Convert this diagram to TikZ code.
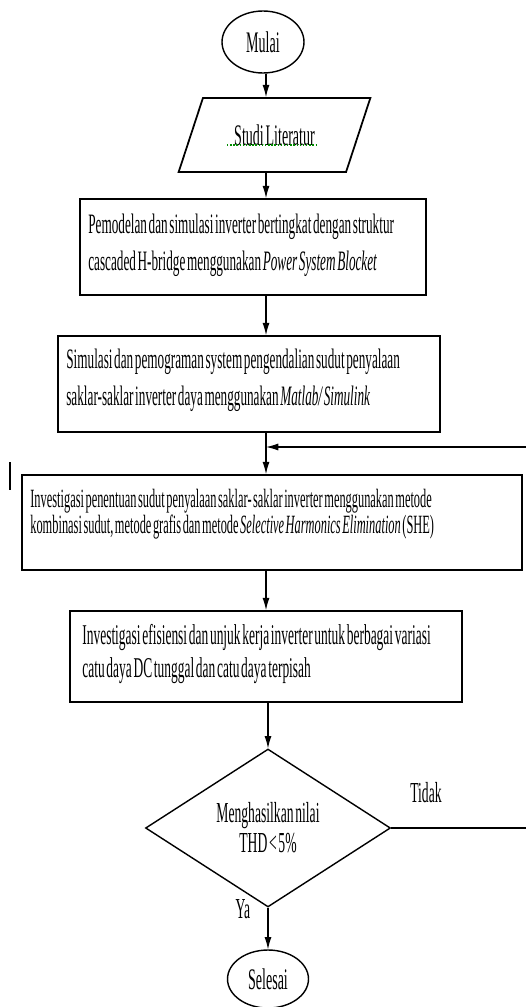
\documentclass[tikz,border=0pt]{standalone}
\usepackage{fontspec}
\setmainfont{Liberation Serif}[FakeStretch=0.47, WordSpace=0.5]
\usetikzlibrary{shapes.geometric,arrows.meta}

\begin{document}
\begin{tikzpicture}[
    x=0.02cm, y=-0.02cm,
    terminal/.style={ellipse, draw=black, line width=0.8pt,
                     minimum width=1.64cm, minimum height=1.24cm, inner sep=0pt,
                     font=\fontsize{17}{20}\selectfont},
    inout/.style={trapezium, trapezium left angle=57, trapezium right angle=123,
                  trapezium stretches=true, draw=black, line width=1pt,
                  minimum width=3.86cm, minimum height=1.48cm, inner sep=0pt,
                  font=\fontsize{17}{20}\selectfont},
    process/.style={rectangle, draw=black, line width=1pt, inner sep=0pt},
    txt/.style={anchor=north west, inner sep=0pt, align=flush left},
    decision/.style={diamond, draw=black, line width=0.8pt, aspect=1.55,
                     minimum width=4.9cm, minimum height=3.16cm, inner sep=0pt,
                     align=center, font=\fontsize{16.5}{17}\selectfont},
    conn/.style={-{Latex[length=7pt,width=4pt]}, line width=0.6pt},
    lbl/.style={font=\fontsize{16.5}{18}\selectfont},
]
\useasboundingbox (0,0) rectangle (525,1007);

% --- Main column ---
\coordinate (axis) at (266,0);

\node[terminal] (start) at (263,42) {Mulai};
\node[inout] (lit) at (274.5,135) {Studi Literatur};
% spell-check squiggle under the title
\draw[green!55!black, densely dotted, line width=0.8pt] (227,145) -- (316,145);

\node[process, minimum width=6.92cm, minimum height=1.92cm] (pem) at (253,247) {};
\node[txt, font=\fontsize{16}{21}\selectfont] (pemtxt) at (88,214)
    {Pemodelan dan simulasi inverter bertingkat dengan struktur\\
     cascaded H-bridge menggunakan \textit{Power System Blocket}};

\node[process, minimum width=7.64cm, minimum height=1.92cm] (sim) at (249,384) {};
\node[txt, font=\fontsize{16}{21}\selectfont] (simtxt) at (66,349)
    {Simulasi dan pemograman system pengendalian sudut penyalaan\\
     saklar-saklar inverter daya menggunakan \textit{Matlab/ Simulink}};

\node[process, minimum width=10cm, minimum height=1.9cm] (inv) at (272,522.5) {};
\node[txt, font=\fontsize{15}{15}\selectfont] (invtxt) at (30,489)
    {Investigasi penentuan sudut penyalaan saklar- saklar inverter menggunakan metode\\
     kombinasi sudut, metode grafis dan metode \textit{Selective Harmonics Elimination} (SHE)};

\node[process, minimum width=7.84cm, minimum height=1.82cm] (eff) at (266,656.5) {};
\node[txt, font=\fontsize{16.3}{19}\selectfont] (efftxt) at (82,624)
    {Investigasi efisiensi dan unjuk kerja inverter untuk berbagai variasi\\
     catu daya DC tunggal dan catu daya terpisah};

\node[decision] (dec) at (268,828) {Menghasilkan nilai\\THD \textless{} 5\%};
\node[terminal, minimum width=1.62cm, minimum height=1.16cm] (end) at (268,979) {Selesai};

% --- Labels ---
\node[lbl] (tidak) at (426,793) {Tidak};
\node[lbl] (ya) at (243,909) {Ya};

% --- Connections ---
\draw[conn] (start.south -| axis) -- (lit.north -| axis);
\draw[conn] (lit.south -| axis) -- (pem.north -| axis);
\draw[conn] (pem.south -| axis) -- (sim.north -| axis);
\draw[conn] (sim.south -| axis) -- (inv.north -| axis);
\draw[conn] (inv.south -| axis) -- (eff.north -| axis);
\draw[conn] (eff.south -| dec.north) -- (dec.north);
\draw[conn] (dec.south) -- (end.north);

% loop back (Tidak)
\coordinate (fb) at (266,447);
\draw[conn] (dec.east) -- ++(150,0) |- (fb);

% stray text cursor
\draw[line width=1.5pt] (10,462) -- (10,490);

\end{tikzpicture}
\end{document}
